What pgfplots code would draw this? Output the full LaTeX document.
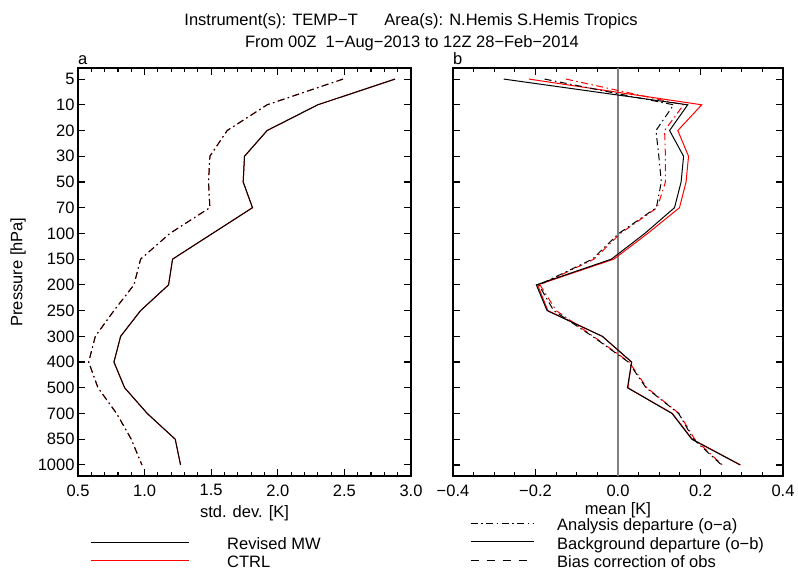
\documentclass[border=0pt]{standalone}
\usepackage{fontspec}
\setmainfont{Liberation Sans}
\usepackage{pgfplots}
\usepackage{pgfplotstable}
\pgfplotsset{compat=1.18}
\newcommand\fs{\fontsize{16.5bp}{19bp}\selectfont}

\pgfplotstableread{
idx revb reva ctrlb ctrla
0 2.88 2.49 2.88 2.49
1 2.30 1.92 2.30 1.92
2 1.92 1.62 1.92 1.62
3 1.75 1.49 1.75 1.49
4 1.74 1.48 1.74 1.48
5 1.81 1.49 1.81 1.49
6 1.51 1.19 1.51 1.19
7 1.21 0.97 1.21 0.97
8 1.18 0.92 1.18 0.92
9 0.97 0.77 0.97 0.77
10 0.82 0.63 0.82 0.63
11 0.77 0.58 0.77 0.58
12 0.85 0.65 0.85 0.65
13 1.02 0.79 1.02 0.79
14 1.23 0.90 1.23 0.90
15 1.27 0.98 1.27 0.98
}\stddata

\pgfplotstableread{
idx revb reva ctrlb ctrla
0 -0.277 -0.178 -0.216 -0.126
1 0.169 0.135 0.203 0.159
2 0.125 0.092 0.145 0.113
3 0.159 0.099 0.171 0.115
4 0.153 0.105 0.165 0.115
5 0.137 0.093 0.149 0.095
6 0.065 0.002 0.072 0.006
7 -0.016 -0.062 -0.010 -0.058
8 -0.198 -0.192 -0.195 -0.189
9 -0.172 -0.156 -0.170 -0.150
10 -0.038 -0.062 -0.038 -0.060
11 0.033 0.025 0.033 0.027
12 0.023 0.068 0.024 0.070
13 0.131 0.147 0.132 0.148
14 0.179 0.183 0.180 0.186
15 0.296 0.251 0.297 0.253
}\meandata

\pgfplotsset{
  myax/.style={
    scale only axis, height=408bp,
    y dir=reverse, ymin=-0.43, ymax=15.43,
    ytick={0,...,15},
    tick align=inside,
    major tick length=7bp, minor tick length=4bp,
    axis line style={line width=1.2bp},
    every tick/.style={black, line width=1.1bp},
    tick label style={font=\fs},
    label style={font=\fs},
    xticklabel style={yshift=-5bp},
    legend style={draw=none, fill=none, inner sep=0pt, row sep=3bp,
      font=\fs, nodes={inner sep=0pt, text height=12bp, text depth=3.5bp}},
    legend cell align=left,
  },
  dd/.style={dash pattern=on 7bp off 3.5bp on 1.5bp off 3.5bp},
  ds/.style={dash pattern=on 8bp off 8bp},
}

\begin{document}
\begin{tikzpicture}[font=\fs]
\path[use as bounding box] (0,0) rectangle (798bp,-571bp);

\node[anchor=base] at (411bp,-25bp) {Instrument(s): TEMP−T\hspace{22bp} Area(s): N.Hemis S.Hemis Tropics};
\node[anchor=base] at (412bp,-47bp) {From 00Z\ \ 1−Aug−2013 to 12Z 28−Feb−2014};
\node[anchor=base west, inner sep=0pt] at (78bp,-64bp) {a};
\node[anchor=base west, inner sep=0pt] at (453bp,-64bp) {b};

\begin{axis}[myax, at={(78bp,-68bp)}, anchor=north west, width=333bp,
  xmin=0.5, xmax=3.0, xtick={0.5,1,1.5,2,2.5,3}, minor x tick num=4,
  xticklabels={0.5,1.0,1.5,2.0,2.5,3.0},
  yticklabels={5,10,20,30,50,70,100,150,200,250,300,400,500,700,850,1000},
  xlabel={std. dev. [K]},
  xlabel style={at={(rel axis cs:0.5,-0.0906)}, anchor=center},
  ylabel={Pressure [hPa]},
  ylabel style={at={(rel axis cs:-0.18,0.5)}, anchor=center},
  legend style={at={(rel axis cs:0.036,-0.1495)}, anchor=north west, column sep=38bp},
  legend image code/.code={\draw[#1] (0bp,2.5bp) -- (98bp,2.5bp);},
]
\addplot[red, line width=1bp, forget plot] table[x=ctrlb, y=idx] {\stddata};
\addplot[red, line width=1bp, dd, forget plot] table[x=ctrla, y=idx] {\stddata};
\addplot[black, line width=1bp, forget plot] table[x=revb, y=idx] {\stddata};
\addplot[black, line width=1bp, dd, forget plot] table[x=reva, y=idx] {\stddata};
\addlegendimage{black, line width=1bp}
\addlegendentry{Revised MW}
\addlegendimage{red, line width=1bp}
\addlegendentry{CTRL}
\end{axis}

\begin{axis}[myax, at={(453bp,-68bp)}, anchor=north west, width=330bp,
  xmin=-0.4, xmax=0.4, xtick={-0.4,-0.2,0,0.2,0.4}, minor x tick num=3,
  xticklabels={−0.4,−0.2,0.0,0.2,0.4},
  yticklabels={},
  xlabel={mean [K]},
  xlabel style={at={(rel axis cs:0.5,-0.0846)}, anchor=center},
  legend style={at={(rel axis cs:0.0515,-0.1042)}, anchor=north west, column sep=23bp},
  legend image code/.code={\draw[#1] (0bp,3bp) -- (63bp,3bp);},
]
\draw[color={rgb,255:red,128;green,128;blue,128}, line width=1.8bp] (axis cs:0,-0.43) -- (axis cs:0,15.43);
\addplot[red, line width=1bp, forget plot] table[x=ctrlb, y=idx] {\meandata};
\addplot[red, line width=1bp, dd, forget plot] table[x=ctrla, y=idx] {\meandata};
\addplot[black, line width=1bp, forget plot] table[x=revb, y=idx] {\meandata};
\addplot[black, line width=1bp, dd, forget plot] table[x=reva, y=idx] {\meandata};
\addlegendimage{black, line width=1bp, dd}
\addlegendentry{Analysis departure (o−a)}
\addlegendimage{black, line width=1bp}
\addlegendentry{Background departure (o−b)}
\addlegendimage{black, line width=1bp, ds}
\addlegendentry{Bias correction of obs}
\end{axis}
\end{tikzpicture}
\end{document}
